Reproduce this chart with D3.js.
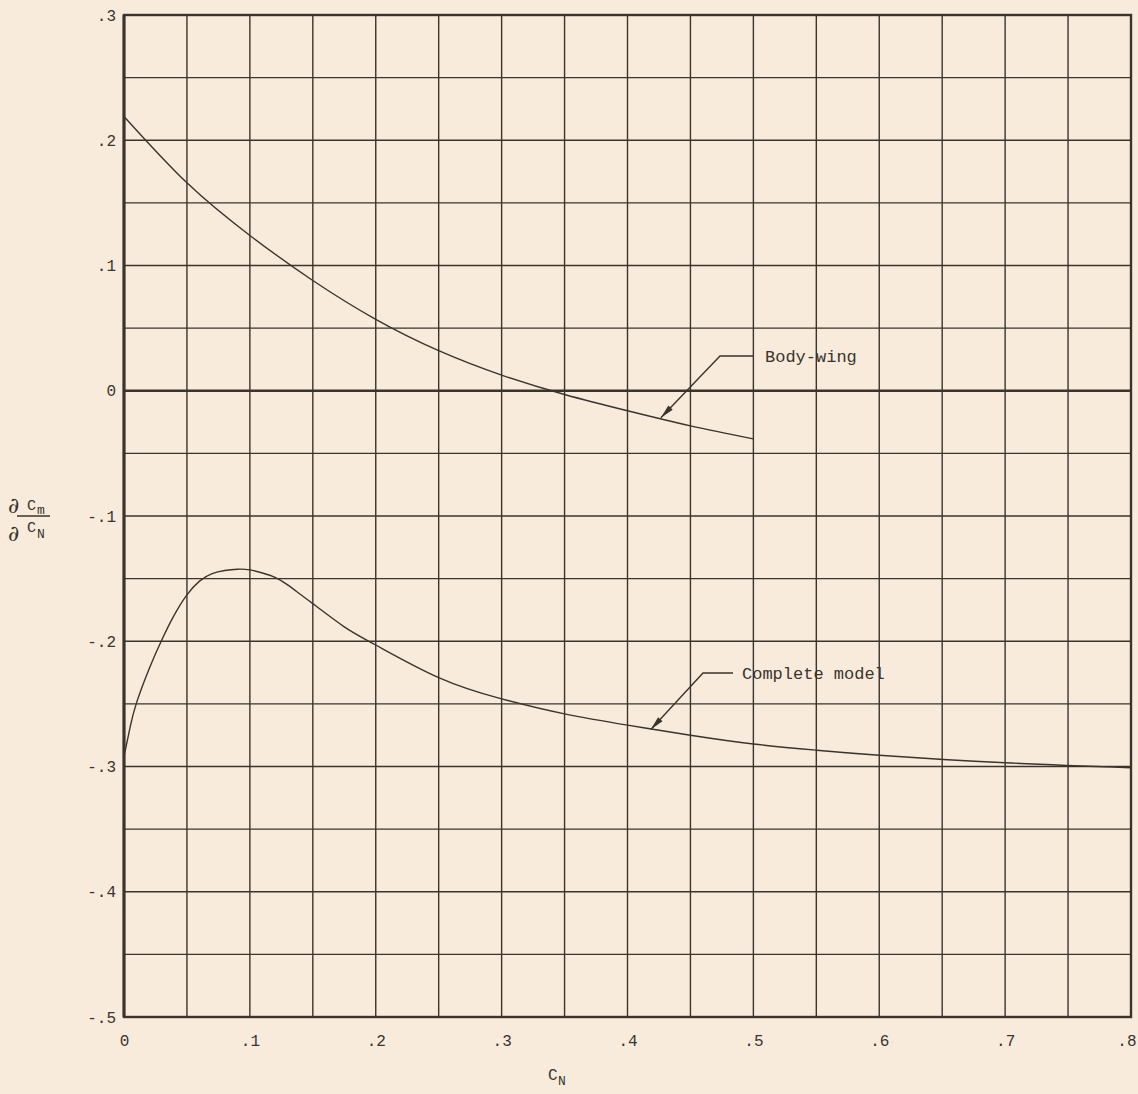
<!DOCTYPE html>
<html><head><meta charset="utf-8">
<script src="https://cdn.jsdelivr.net/npm/d3@7"></script>
<style>
html,body{margin:0;padding:0;background:#f8ebdb;}
svg{display:block;}
text{font-family:"Liberation Mono","DejaVu Sans Mono",monospace;fill:#3a342d;}
</style></head>
<body>
<script>
// Data
const bodyWingCN =  [0, 0.05, 0.1, 0.15, 0.2, 0.25, 0.3, 0.35, 0.4, 0.45, 0.5];
const bodyWingVal = [0.219, 0.166, 0.124, 0.088, 0.057, 0.032, 0.0125, -0.003, -0.016, -0.028, -0.0384];

const completeCN =  [0, 0.005, 0.01, 0.02, 0.03, 0.04, 0.05, 0.06, 0.07, 0.08, 0.09, 0.1, 0.11, 0.12, 0.13, 0.14, 0.15, 0.175, 0.2, 0.25, 0.3, 0.35, 0.4, 0.45, 0.5, 0.55, 0.6, 0.7, 0.8];
const completeVal = [-0.292, -0.268, -0.249, -0.222, -0.199, -0.179, -0.163, -0.152, -0.146, -0.1435, -0.1425, -0.143, -0.1455, -0.149, -0.155, -0.1625, -0.170, -0.1885, -0.203, -0.229, -0.246, -0.258, -0.267, -0.275, -0.282, -0.287, -0.291, -0.297, -0.301];

const xTicks = [0, 0.1, 0.2, 0.3, 0.4, 0.5, 0.6, 0.7, 0.8];
const xTickLabels = ["0", ".1", ".2", ".3", ".4", ".5", ".6", ".7", ".8"];
const yTicks = [0.3, 0.2, 0.1, 0, -0.1, -0.2, -0.3, -0.4, -0.5];
const yTickLabels = [".3", ".2", ".1", "0", "-.1", "-.2", "-.3", "-.4", "-.5"];
const xGrid = d3.range(0, 17).map(i => i * 0.05);
const yGrid = d3.range(0, 17).map(i => -0.5 + i * 0.05);

const W = 1138, H = 1094;
const ink = "#3a342d";
const svg = d3.select("body").append("svg").attr("width", W).attr("height", H);
svg.append("rect").attr("width", W).attr("height", H).attr("fill", "#f8ebdb");

const x = d3.scaleLinear().domain([0, 0.8]).range([124, 1131]);
const y = d3.scaleLinear().domain([-0.5, 0.3]).range([1017, 15]);

// grid
const g = svg.append("g");
g.selectAll("line.vx").data(xGrid).join("line")
  .attr("x1", d => x(d)).attr("x2", d => x(d)).attr("y1", y(0.3)).attr("y2", y(-0.5))
  .attr("stroke", ink).attr("stroke-width", 1.4);
g.selectAll("line.hy").data(yGrid).join("line")
  .attr("y1", d => y(d)).attr("y2", d => y(d)).attr("x1", x(0)).attr("x2", x(0.8))
  .attr("stroke", ink).attr("stroke-width", d => Math.abs(d) < 1e-9 ? 2.6 : 1.4);
// frame
g.append("rect").attr("x", x(0)).attr("y", y(0.3)).attr("width", x(0.8) - x(0)).attr("height", y(-0.5) - y(0.3))
  .attr("fill", "none").attr("stroke", ink).attr("stroke-width", 2.4);
g.append("line").attr("x1", x(0)).attr("x2", x(0)).attr("y1", y(0.3)).attr("y2", y(-0.5))
  .attr("stroke", ink).attr("stroke-width", 3);

// tick labels via d3 axes
const yAxis = d3.axisLeft(y).tickValues(yTicks).tickFormat((d, i) => yTickLabels[i]).tickSize(0).tickPadding(8);
const ya = svg.append("g").attr("transform", `translate(${x(0)},0)`).call(yAxis);
ya.select(".domain").remove();
ya.selectAll("text").style("font-size", "16px").attr("fill", ink).attr("font-family", null);

const xAxis = d3.axisBottom(x).tickValues(xTicks).tickFormat((d, i) => xTickLabels[i]).tickSize(0).tickPadding(18);
const xa = svg.append("g").attr("transform", `translate(0,${y(-0.5)})`).call(xAxis);
xa.select(".domain").remove();
xa.selectAll("text").style("font-size", "16px").attr("fill", ink).attr("font-family", null);
xa.selectAll(".tick").filter(d => d === 0.8).select("text").attr("text-anchor", "end").attr("dx", "5");

// curves
const lineN = d3.line().x(d => x(d[0])).y(d => y(d[1])).curve(d3.curveNatural);
svg.append("path").attr("d", lineN(d3.zip(bodyWingCN, bodyWingVal))).attr("fill", "none").attr("stroke", ink).attr("stroke-width", 1.4);
svg.append("path").attr("d", lineN(d3.zip(completeCN, completeVal))).attr("fill", "none").attr("stroke", ink).attr("stroke-width", 1.4);

// annotations
function leader(tipCN, tipV, elbowX, elbowY, endX, label, tx) {
  const tip = [x(tipCN), y(tipV)];
  svg.append("path").attr("d", `M${endX},${elbowY} L${elbowX},${elbowY} L${tip[0]},${tip[1]}`)
    .attr("fill", "none").attr("stroke", ink).attr("stroke-width", 1.4);
  const ang = Math.atan2(elbowY - tip[1], elbowX - tip[0]);
  const L = 14, w = 3;
  const bx = tip[0] + L * Math.cos(ang), by = tip[1] + L * Math.sin(ang);
  const px = -Math.sin(ang) * w, py = Math.cos(ang) * w;
  svg.append("path").attr("d", `M${tip[0]},${tip[1]} L${bx + px},${by + py} L${bx - px},${by - py} Z`).attr("fill", ink);
  svg.append("text").attr("x", tx).attr("y", elbowY + 6).style("font-size", "17px").text(label);
}
leader(0.4265, -0.0215, 720, 356, 753, "Body-wing", 765);
leader(0.4185, -0.2705, 703, 673, 733, "Complete model", 742);

// y label: dCm / dCN
const yl = svg.append("g");
yl.append("text").attr("x", 8).attr("y", 513).style("font-size", "22px").style("font-family", "DejaVu Serif, serif").text("∂");
yl.append("text").attr("x", 27).attr("y", 510).style("font-size", "15px").text("C");
yl.append("text").attr("x", 37).attr("y", 514).style("font-size", "13px").text("m");
yl.append("line").attr("x1", 17).attr("x2", 50).attr("y1", 516).attr("y2", 516).attr("stroke", ink).attr("stroke-width", 1.3);
yl.append("text").attr("x", 8).attr("y", 541).style("font-size", "22px").style("font-family", "DejaVu Serif, serif").text("∂");
yl.append("text").attr("x", 27).attr("y", 532).style("font-size", "15px").text("C");
yl.append("text").attr("x", 37).attr("y", 538).style("font-size", "13px").text("N");

// x label: CN
svg.append("text").attr("x", 548).attr("y", 1080).style("font-size", "16px").text("C");
svg.append("text").attr("x", 558).attr("y", 1085).style("font-size", "13px").text("N");
</script>
</body></html>
